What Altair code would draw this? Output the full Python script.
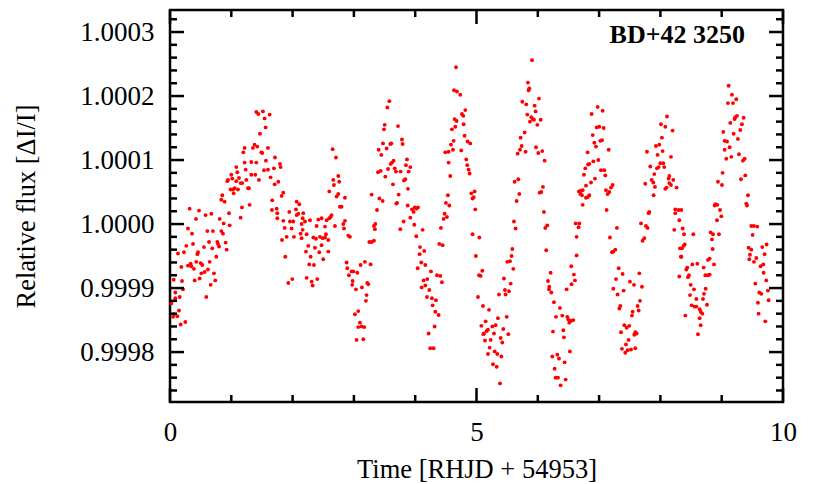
import altair as alt
import pandas as pd

# (time [d], flux offset [ppm]), per time segment
seg1 = [(0.022,-124),(0.065,-141),(0.049,-145),(0.12,-144),(0.147,-135),(0.174,-157),(0.25,-153),(0.087,-116),(0.087,-107),(0.158,-114),
        (0.212,-102),(0.196,-89),(0.06,-87),(0.185,-67),(0.13,-46),(0.228,-44),(0.266,-34),(0.32,24),(0.293,-7),(0.359,-15),
        (0.375,-31),(0.473,21),(0.424,8),(0.58,14),(0.674,16),(0.609,-11),(0.70,-11),(0.554,-36),(0.457,-44),(0.446,-47),
        (0.293,-65),(0.337,-62),(0.348,-66),(0.391,-70),(0.429,-59),(0.5,-61),(0.527,-64),(0.511,-77),(0.484,-85),(0.402,-88),
        (0.565,-75),(0.62,-71),(0.647,-59),(0.69,-38),(0.636,-28),(0.717,-77),(0.739,-88),(0.663,-95),(0.592,-114),(0.755,-51),
        (0.783,-31),(0.80,-35),(0.772,-28),(0.81,8),(0.837,-11),(0.864,-15),(0.875,1),(0.908,-29),(0.924,-40),(0.973,-2),
        (0.962,17),(0.837,38),(0.853,45),(0.891,35),(1.174,26),(1.152,10),(1.299,30),(0.935,67),(0.946,69),(1.0,77),
        (1.016,71),(1.082,89),(1.098,81),(1.082,67),(1.125,72),(1.152,64),(1.109,54),(1.027,54),(0.989,54),(1.038,48),
        (1.054,56),(1.272,56),(1.288,56),(1.179,64),(1.245,69),(1.234,85),(1.217,96),(1.196,112),(1.217,119),(1.326,97),
        (1.353,119),(1.38,124),(1.424,121),(1.408,96),(1.391,77),(1.326,77),(1.451,69),(1.489,112),(1.505,111),(1.467,141),
        (1.56,151),(1.543,165),(1.598,119),(1.565,99),(1.533,84),(1.598,85),(1.625,171),(1.516,176),(1.408,175),(1.44,172),
        (1.641,73),(1.668,37),(1.663,22)]

seg2 = [(1.713,104),(1.696,87),(1.794,94),(1.805,89),(1.767,66),(1.707,62),(1.848,49),(1.821,44),(1.74,24),(1.75,17),
        (1.75,9),(1.848,5),(1.87,-6),(1.827,-25),(1.903,-20),(1.946,19),(1.957,4),(1.984,-7),(2.011,4),(2.022,-20),
        (2.066,35),(2.109,31),(2.055,23),(2.066,14),(2.093,16),(2.164,9),(2.174,17),(2.202,4),(2.147,0),(2.164,-9),
        (2.229,-16),(2.131,-15),(2.147,-22),(2.283,6),(2.338,-21),(2.381,-23),(2.419,7),(2.473,9),(2.392,-3),(2.446,-20),
        (2.49,-22),(2.528,-21),(2.544,-16),(2.582,-25),(2.528,-4),(2.473,-33),(2.365,-37),(2.256,-34),(2.218,-43),(2.294,-51),
        (2.272,-63),(2.348,-64),(2.435,-44),(2.5,-55),(2.582,-43),(2.555,6),(2.598,9),(2.62,11),(2.636,14),(2.691,-3),
        (2.653,117),(2.707,104),(2.664,69),(2.745,75),(2.761,66),(2.674,61),(2.598,51),(2.745,47),(2.718,43),(2.854,41),
        (2.772,27),(2.799,27),(2.854,5),(2.827,0),(2.838,-7),(2.908,-18),(2.935,-20),(1.881,-51),(1.93,-92),(1.995,-86),
        (2.229,-84),(2.31,-90),(2.327,-96),(2.403,-86),(2.881,-60),(2.892,-69),(2.962,-74),(2.919,-80),(2.99,-74),(3.055,-76),
        (3.109,-64),(3.18,-59),(3.272,-63),(2.979,-89),(2.973,-95),(3.033,-102),(3.131,-99),(3.218,-92),(3.234,-94),(3.207,-111),
        (3.196,-120),(3.071,-136),(3.017,-141),(3.098,-154),(3.071,-161),(3.126,-160),(3.169,-161),(3.044,-181),(3.153,-180),(3.289,46),
        (3.327,-3),(3.343,-8),(3.251,-28),(3.289,-28),(3.327,-26)]

seg3 = [(3.578,192),(3.545,182),(3.502,155),(3.491,148),(3.719,153),(3.784,132),(3.795,125),(3.474,126),(3.404,116),(3.447,108),
        (3.534,118),(3.594,125),(3.61,126),(3.621,96),(3.599,94),(3.648,99),(3.866,101),(3.849,92),(3.92,89),(3.893,82),
        (3.762,82),(3.686,82),(3.665,87),(3.556,86),(3.436,83),(3.393,81),(3.512,74),(3.637,62),(3.817,68),(3.838,70),
        (3.882,55),(3.73,46),(3.703,33),(3.692,32),(3.415,40),(3.469,36),(3.377,22),(3.877,29),(3.947,23),(3.991,26),
        (4.045,26),(4.018,24),(3.974,19),(3.92,10),(3.985,-1),(3.811,4),(3.757,-8),(4.121,-9),(4.018,-19),(3.349,0),
        (4.078,-36),(4.148,-42),(4.072,-47),(4.099,-60),(4.165,-64),(4.04,-69),(4.257,-74),(4.355,-80),(4.409,-81),(4.436,-91),
        (4.137,-88),(4.197,-86),(4.165,-96),(4.105,-99),(4.23,-103),(4.192,-114),(4.273,-116),(4.338,-119),(4.284,-127),(4.328,-137),
        (4.382,-142),(4.317,-160),(4.219,-171),(4.246,-194),(4.3,-194),(4.681,207),(4.735,202),(4.762,172),(4.784,169),(4.817,178),
        (4.643,164),(4.675,161),(4.654,152),(4.599,148),(4.79,156),(4.806,138),(4.855,129),(4.898,126),(4.627,130),(4.583,124),
        (4.616,116),(4.752,115),(4.545,113),(4.491,112),(4.833,101),(4.849,92),(4.871,85),(4.887,79),(4.545,96),(4.572,75),
        (4.534,45),(4.501,33),(4.556,29),(4.48,16),(4.518,11),(4.463,8),(4.42,-6),(4.393,-31),(4.447,-33),(4.915,48),
        (4.969,51),(4.936,40),(4.953,42),(4.98,23),(4.936,-16),(4.99,-50),(4.666,245),(4.633,209)]

seg4 = [(5.905,256),(5.839,221),(5.861,212),(5.85,209),(6.019,196),(5.747,191),(5.812,187),(5.948,185),(5.964,176),(5.829,171),
        (5.894,167),(5.916,164),(5.937,163),(5.872,160),(6.046,163),(5.992,155),(5.785,143),(5.72,135),(5.736,122),(5.709,116),
        (5.671,110),(5.801,113),(5.97,120),(6.008,111),(6.073,114),(6.111,99),(5.682,70),(5.622,66),(5.698,47),(5.655,36),
        (6.084,58),(6.057,50),(6.03,49),(6.1,19),(5.611,4),(5.638,-7),(6.155,-2),(6.122,-6),(6.138,-41),(5.584,-39),
        (5.573,-50),(5.546,-58),(5.502,-59),(5.6,-70),(5.448,-85),(5.557,-93),(5.464,-103),(5.53,-105),(5.475,-110),(5.367,-110),
        (5.046,-21),(5.095,-73),(5.041,-80),(5.068,-81),(5.024,-114),(5.106,-128),(5.204,-134),(5.149,-152),(5.079,-159),(5.122,-171),
        (5.166,-167),(5.187,-165),(5.111,-172),(5.258,-160),(5.312,-158),(5.35,-147),(5.492,-145),(5.285,-171),(5.437,-164),(5.519,-172),
        (5.394,-178),(5.231,-181),(5.138,-182),(5.421,-185),(5.214,-193),(5.187,-203),(5.296,-199),(5.339,-203),(5.405,-207),(5.269,-219),
        (5.329,-223),(5.383,-249),(6.209,-76),(6.166,-89),(6.187,-98),(6.182,-102),(6.22,-107),(6.263,-122),(6.361,-131),(6.296,-145),
        (6.399,-143),(6.481,-145),(6.497,-149),(6.546,-151),(6.513,-154),(6.579,-150),(6.247,-168),(6.416,-166),(6.426,-177),(6.524,-199),
        (6.236,-207),(6.318,-204),(6.345,-210),(6.437,-216),(6.274,-226),(6.291,-240),(6.329,-240),(6.454,-243),(6.372,-252),(6.47,-102),
        (6.551,-94),(6.589,-79),(6.606,-88),(6.546,-66),(6.633,-49),(6.633,-20),(6.617,1),(6.665,-5),(6.671,51)]

seg5 = [(6.976,183),(6.878,172),(7.058,177),(6.96,151),(7.003,152),(7.074,150),(6.895,139),(6.922,127),(6.949,121),(7.047,131),
        (7.02,130),(7.156,116),(6.813,112),(6.906,98),(6.987,100),(6.84,94),(6.819,93),(6.775,87),(7.031,84),(7.085,84),
        (6.753,77),(7.101,76),(6.933,71),(6.868,65),(6.786,60),(7.221,61),(7.194,57),(6.732,53),(6.705,52),(6.688,51),
        (6.694,47),(6.721,45),(6.84,45),(6.813,42),(6.786,41),(7.112,53),(7.139,47),(7.166,50),(6.732,30),(7.123,22),
        (6.677,1),(7.291,-6),(7.177,-21),(7.264,-40),(7.232,-43),(7.21,-44),(7.319,-69),(7.384,-78),(7.275,-86),(7.503,-90),
        (7.569,-95),(7.656,-77),(7.699,-98),(7.232,-101),(7.302,-110),(7.4,-104),(7.667,-120),(7.628,-128),(7.645,-135),(7.346,-128),
        (7.33,-132),(7.547,-137),(7.536,-143),(7.411,-158),(7.493,-159),(7.449,-162),(7.357,-169),(7.59,-169),(7.612,-171),(7.574,-173),
        (7.482,-181),(7.438,-188),(7.373,-195),(7.427,-201),(7.465,-197),(7.52,-196),(7.59,-194),(8.107,168),(8.009,156),(8.08,152),
        (8.199,146),(8.025,135),(7.982,124),(7.927,122),(7.954,108),(8.036,114),(8.172,105),(7.781,113),(7.835,90),(7.944,87),
        (7.971,89),(7.998,95),(8.047,95),(8.063,89),(7.9,78),(8.145,75),(8.134,71),(7.857,69),(7.884,65),(7.753,63),
        (7.911,58),(8.145,64),(8.172,61),(8.21,69),(8.101,57),(8.08,55),(8.264,57),(7.889,45),(7.819,19),(7.808,17),
        (7.683,1),(7.764,-3),(7.791,-6),(7.737,-22),(7.71,-26),(8.243,23),(8.297,22),(8.243,17),(8.308,6),(8.226,-9),
        (8.319,-38),(8.335,-51),(8.308,-82)]

seg6 = [(9.113,216),(9.167,202),(9.238,195),(9.102,189),(9.184,189),(9.222,167),(9.249,169),(9.211,164),(9.358,166),(9.14,158),
        (9.33,156),(9.303,147),(9.195,141),(9.265,133),(9.026,144),(9.048,130),(9.086,129),(9.129,120),(9.048,116),(9.282,109),
        (9.157,105),(9.075,102),(9.374,102),(9.347,99),(9.015,80),(8.939,66),(9.004,61),(9.385,76),(9.314,70),(9.428,45),
        (9.401,32),(9.412,29),(8.896,31),(8.928,30),(8.885,29),(8.972,22),(8.994,12),(8.923,6),(8.341,22),(8.363,-7),
        (8.385,-16),(8.537,-16),(8.82,-13),(8.858,-16),(8.955,-16),(8.841,-24),(8.396,-32),(8.379,-34),(8.352,-38),(8.852,-39),
        (8.341,-51),(8.803,-54),(8.776,-56),(8.874,-63),(8.439,-68),(8.423,-71),(8.521,-63),(8.602,-62),(8.705,-68),(8.733,-80),
        (8.776,-80),(8.803,-79),(8.466,-80),(8.45,-83),(8.494,-95),(8.548,-102),(8.738,-101),(8.483,-111),(8.586,-117),(8.711,-109),
        (8.695,-117),(8.51,-127),(8.559,-129),(8.586,-129),(8.76,-126),(8.64,-133),(8.657,-137),(8.684,-140),(8.407,-143),(8.64,-147),
        (8.657,-158),(8.613,-172),(9.483,-3),(9.526,-3),(9.58,-4),(9.504,-17),(9.439,-37),(9.483,-40),(9.461,-48),(9.45,-55),
        (9.564,-53),(9.526,-59),(9.662,-36),(9.733,-32),(9.7,-47),(9.678,-63),(9.635,-66),(9.684,-76),(9.727,-88),(9.548,-93),
        (9.613,-107),(9.646,-109),(9.754,-104),(9.765,-119),(9.591,-123),(9.602,-140),(9.711,-152)]

x_major = [0, 5, 10]
x_minor = [1, 2, 3, 4, 6, 7, 8, 9]
y_major = [0.9998, 0.9999, 1.0, 1.0001, 1.0002, 1.0003]
y_minor = [0.99974, 0.99976, 0.99978, 0.99982, 0.99984, 0.99986, 0.99988, 0.99992, 0.99994,
           0.99996, 0.99998, 1.00002, 1.00004, 1.00006, 1.00008, 1.00012, 1.00014, 1.00016,
           1.00018, 1.00022, 1.00024, 1.00026, 1.00028, 1.00032]
label_text = "BD+42 3250"

df = pd.DataFrame(seg1 + seg2 + seg3 + seg4 + seg5 + seg6, columns=["t", "ppm"])
df["flux"] = 1.0 + df["ppm"] * 1e-6

W, H = 613, 392
FONT = "Liberation Serif"
xs = alt.Scale(domain=[0, 10], nice=False, zero=False)
ys = alt.Scale(domain=[0.999722, 1.0003344], nice=False, zero=False)

x_axis = alt.Axis(values=x_major, format="d", title="Time [RHJD + 54953]",
                  ticks=False, domain=False, grid=False, labelPadding=17,
                  titlePadding=11, labelFlush=False)
y_axis = alt.Axis(values=y_major, format=".4f", title="Relative flux [ΔI/I]",
                  ticks=False, domain=False, grid=False, labelPadding=16,
                  titlePadding=39, labelFlush=False)

pts = alt.Chart(df).mark_circle(size=15, color="#ff0000", opacity=1).encode(
    x=alt.X("t:Q", scale=xs, axis=x_axis),
    y=alt.Y("flux:Q", scale=ys, axis=y_axis),
)

def xticks(vals, bottom, length):
    c = alt.Chart(pd.DataFrame({"t": vals})).mark_rule(color="black", strokeWidth=2.5)
    if bottom:
        return c.encode(x=alt.X("t:Q", scale=xs, axis=x_axis), y=alt.value(H), y2=alt.value(H - length))
    return c.encode(x=alt.X("t:Q", scale=xs, axis=x_axis), y=alt.value(0), y2=alt.value(length))

def yticks(vals, left, length):
    c = alt.Chart(pd.DataFrame({"flux": vals})).mark_rule(color="black", strokeWidth=2.5)
    if left:
        return c.encode(y=alt.Y("flux:Q", scale=ys, axis=y_axis), x=alt.value(0), x2=alt.value(length))
    return c.encode(y=alt.Y("flux:Q", scale=ys, axis=y_axis), x=alt.value(W), x2=alt.value(W - length))

MAJ, MIN = 14, 7
ticks = [xticks(x_major, True, MAJ), xticks(x_minor, True, MIN),
         xticks(x_major, False, MAJ), xticks(x_minor, False, MIN),
         yticks(y_major, True, MAJ), yticks(y_minor, True, MIN),
         yticks(y_major, False, MAJ), yticks(y_minor, False, MIN)]

label = alt.Chart(pd.DataFrame({"label": [label_text]})).mark_text(
    align="right", baseline="alphabetic", font=FONT, fontSize=26, fontWeight="bold", color="black"
).encode(text="label:N", x=alt.value(575), y=alt.value(33))

chart = alt.layer(pts, *ticks, label).properties(
    width=W, height=H,
    padding={"left": 162, "top": 2, "right": 30, "bottom": 80},
    autosize="none",
).configure_view(stroke="black", strokeWidth=2.5).configure_axis(
    labelFont=FONT, labelFontSize=27, labelColor="black",
    titleFont=FONT, titleFontSize=26.5, titleFontWeight="normal", titleColor="black",
)

chart.save("out.html", embed_options={"renderer": "svg", "actions": False})
